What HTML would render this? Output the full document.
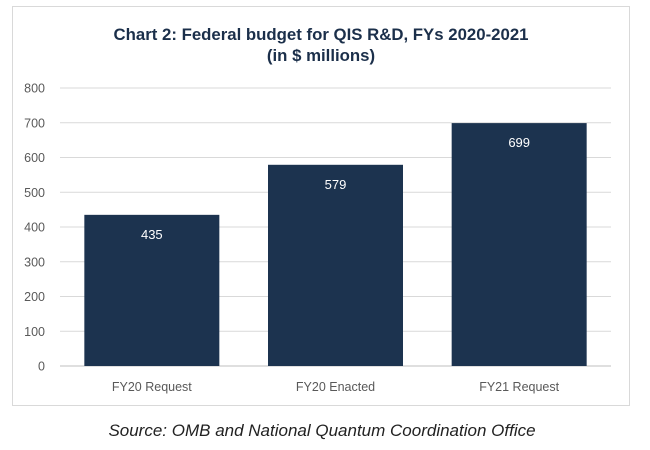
<!DOCTYPE html>
<html><head><meta charset="utf-8"><style>
body{margin:0;background:#fff;width:650px;height:445px;overflow:hidden;font-family:"Liberation Sans",sans-serif}
</style></head><body>
<svg width="650" height="445">
<rect x="12.5" y="6.5" width="617" height="399" fill="#fff" stroke="#d9d9d9"/>
<text x="321" y="40" text-anchor="middle" font-size="16.8" font-weight="bold" fill="#1b2f4a">Chart 2: Federal budget for QIS R&amp;D, FYs 2020-2021</text>
<text x="321" y="61" text-anchor="middle" font-size="16.8" font-weight="bold" fill="#1b2f4a">(in $ millions)</text>
<g id="grid"></g><g id="bars"></g>
<text x="322" y="436" text-anchor="middle" font-size="17" font-style="italic" fill="#222">Source: OMB and National Quantum Coordination Office</text>
</svg>
<script>
const categories=["FY20 Request","FY20 Enacted","FY21 Request"];
const values=[435,579,699];
const ticks=[0,100,200,300,400,500,600,700,800];
const ns="http://www.w3.org/2000/svg";
const y0=366,y1=88,vmax=800,xL=60,xR=611;
const y=v=>y0-(v/vmax)*(y0-y1);
const band=(xR-xL)/categories.length;
const x=i=>xL+band*i;
const grid=document.getElementById('grid'),bars=document.getElementById('bars');
function mk(t,a,p){const e=document.createElementNS(ns,t);for(const k in a)e.setAttribute(k,a[k]);p.appendChild(e);return e;}
ticks.forEach(t=>{
 const l=mk('line',{x1:xL,x2:xR,y1:y(t),y2:y(t),stroke:t===0?'#bfbfbf':'#d9d9d9','stroke-width':1},grid);
 
 
 const tx=mk('text',{x:45,y:y(t)+4.5,'text-anchor':'end','font-size':12.5,fill:'#595959'},grid);
 tx.textContent=t;
 
 
});
categories.forEach((c,i)=>{
 const bw=135,bx=x(i)+(band-bw)/2;
 const r=mk('rect',{x:bx,y:y(values[i]),width:bw,height:y0-y(values[i]),fill:'#1c334f'},bars);
 
 
 const v=mk('text',{x:bx+bw/2,y:y(values[i])+24,'text-anchor':'middle','font-size':13,fill:'#fff'},bars);
 v.textContent=values[i];
 
 
 const cl=mk('text',{x:bx+bw/2,y:391,'text-anchor':'middle','font-size':12.5,fill:'#595959'},bars);
 cl.textContent=c;
 
 
});
</script>
</body></html>
